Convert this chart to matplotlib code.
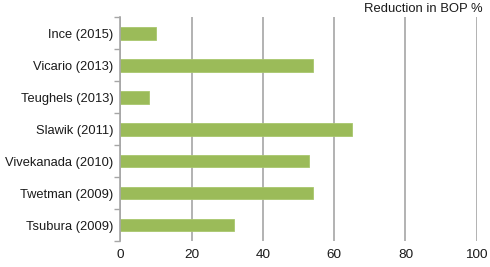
import matplotlib
matplotlib.use("Agg")
import matplotlib.pyplot as plt
import numpy as np

plt.rcParams['font.family'] = ['Liberation Sans', 'DejaVu Sans']

studies = ["Ince (2015)", "Vicario (2013)", "Teughels (2013)", "Slawik (2011)",
           "Vivekanada (2010)", "Twetman (2009)", "Tsubura (2009)"]
reduction = [10, 54, 8, 65, 53, 54, 32]
xticks = [0, 20, 40, 60, 80, 100]
xlabel = "Reduction in BOP %"

fig = plt.figure(figsize=(4.9, 2.67), dpi=100)
ax = fig.add_axes([0.2459, 0.0974, 0.7270, 0.8378])

y = np.arange(len(studies))
ax.barh(y, reduction, height=0.4, color="#9BBB59", edgecolor="#A9C76E", linewidth=0.6, zorder=3)
ax.set_ylim(len(studies) - 0.5, -0.5)
ax.set_xlim(0, 100)
ax.set_xticks(xticks)
ax.set_xticklabels([str(t) for t in xticks], fontsize=9.7, color="#1a1a1a")
ax.tick_params(axis='x', length=0, pad=6)
ax.set_yticks(y)
ax.set_yticklabels(studies, fontsize=9.3, color="#1a1a1a")
ax.tick_params(axis='y', which='major', length=0, pad=5)
ax.set_yticks(np.arange(-0.5, len(studies)), minor=True)
ax.tick_params(axis='y', which='minor', length=4, width=1, color="#A6A6A6")

ax.grid(axis='x', color="#A6A6A6", linewidth=1.2, zorder=0)
for s in ['top', 'right', 'bottom']:
    ax.spines[s].set_visible(False)
ax.spines['left'].set_color("#A6A6A6")
ax.spines['left'].set_linewidth(1.2)
ax.spines['left'].set_zorder(4)

fig.text(483 / 490, 1 - 8.5 / 267, xlabel, ha='right', va='center', fontsize=9.4, color="#1a1a1a")

fig.savefig("out.png", dpi=100)
